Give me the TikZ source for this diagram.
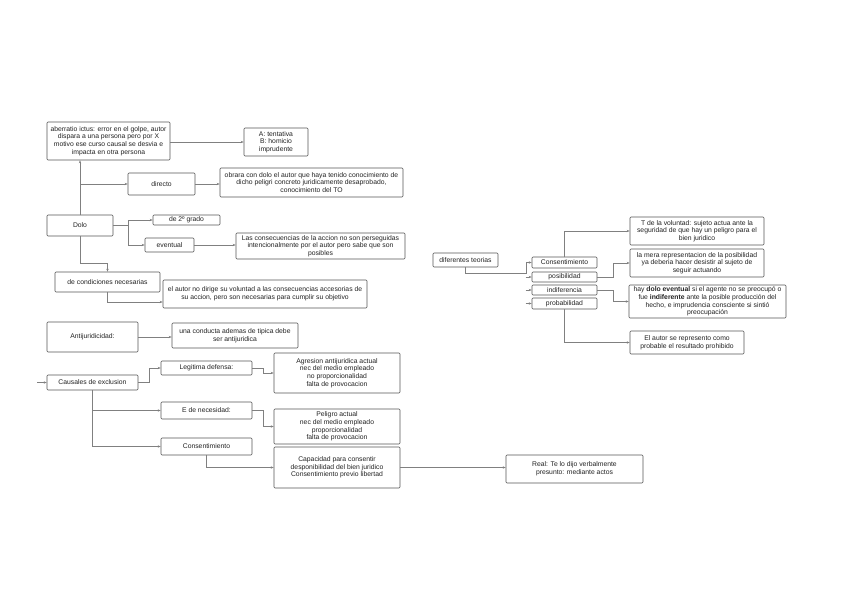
\documentclass[tikz,border=0pt]{standalone}
\usepackage{fontspec}
\setmainfont{Liberation Sans}
\usetikzlibrary{arrows.meta}
\definecolor{boxline}{HTML}{555555}
\definecolor{conline}{HTML}{808080}
\definecolor{txt}{HTML}{222222}
\tikzset{
  box/.style={draw=boxline, line width=0.6pt, rounded corners=1pt, fill=white,
    inner sep=0pt, align=center, text=txt,
    font=\fontsize{6.8}{7.6}\selectfont},
  con/.style={draw=conline, line width=0.5pt, -{Stealth[length=3pt,width=2.4pt]}},
  conplain/.style={draw=conline, line width=0.5pt},
}
\begin{document}
\begin{tikzpicture}[x=1pt,y=-1pt]
\useasboundingbox[fill=white] (0,0) rectangle (848,599);

% ---- left column: Dolo ----
\node[box, minimum width=123pt, minimum height=38pt] (aber) at (108.5,141) {aberratio ictus: error en el golpe, autor\\dispara a una persona pero por X\\motivo ese curso causal se desvia e\\impacta en otra persona};
\node[box, minimum width=64pt, minimum height=28pt] (tent) at (276,142) {A: tentativa\\B: homicio\\imprudente};
\node[box, minimum width=67pt, minimum height=22pt] (directo) at (161.5,184) {directo};
\node[box, minimum width=183pt, minimum height=29pt] (obrara) at (311.5,182.5) {obrara con dolo el autor que haya tenido conocimiento de\\dicho peligri concreto juridicamente desaprobado,\\conocimiento del TO};
\node[box, minimum width=66pt, minimum height=21pt] (dolo) at (80,225.5) {Dolo};
\node[box, minimum width=67pt, minimum height=10pt] (grado) at (186.5,220) {de 2º grado};
\node[box, minimum width=49pt, minimum height=14pt] (eventual) at (169.5,245) {eventual};
\node[box, minimum width=169pt, minimum height=26pt] (conse) at (320.5,246) {Las consecuencias de la accion no son perseguidas\\intencionalmente por el autor pero sabe que son\\posibles};
\node[box, minimum width=105pt, minimum height=20pt] (condic) at (107.5,282) {de condiciones necesarias};
\node[box, minimum width=204pt, minimum height=28pt] (elautor) at (265,294) {el autor no dirige su voluntad a las consecuencias accesorias de\\su accion, pero son necesarias para cumplir su objetivo};

% ---- Antijuridicidad ----
\node[box, minimum width=91pt, minimum height=30pt] (antij) at (92.5,337) {Antijuridicidad:};
\node[box, minimum width=126pt, minimum height=25pt] (conducta) at (235,335.5) {una conducta ademas de tipica debe\\ser antijuridica};
\node[box, minimum width=91pt, minimum height=15pt] (causales) at (92.5,382.5) {Causales de exclusion};
\node[box, minimum width=91pt, minimum height=14pt] (legit) at (206.5,368) {Legitima defensa:};
\node[box, minimum width=126pt, minimum height=40pt] (agres) at (337,373) {Agresion antijuridica actual\\nec del medio empleado\\no proporcionalidad\\falta de provocacion};
\node[box, minimum width=91pt, minimum height=17pt] (enec) at (206.5,410.5) {E de necesidad:};
\node[box, minimum width=126pt, minimum height=35pt] (peligro) at (337,426.5) {Peligro actual\\nec del medio empleado\\proporcionalidad\\falta de provocacion};
\node[box, minimum width=91pt, minimum height=17pt] (consent) at (206.5,446.5) {Consentimiento};
\node[box, minimum width=126pt, minimum height=41pt] (capac) at (337,467.5) {Capacidad para consentir\\desponibilidad del bien juridico\\Consentimiento previo libertad};
\node[box, minimum width=137pt, minimum height=28pt] (real) at (574.5,469) {Real: Te lo dijo verbalmente\\presunto: mediante actos};

% ---- right: teorias ----
\node[box, minimum width=65pt, minimum height=14pt] (teorias) at (465.5,260) {diferentes teorias};
\node[box, minimum width=65pt, minimum height=11pt] (consR) at (564.5,262.5) {Consentimiento};
\node[box, minimum width=65pt, minimum height=10pt] (posib) at (564.5,277) {posibilidad};
\node[box, minimum width=65pt, minimum height=10pt] (indif) at (564.5,290) {indiferencia};
\node[box, minimum width=65pt, minimum height=11pt] (probab) at (564.5,303.5) {probabilidad};
\node[box, minimum width=134pt, minimum height=28pt] (tvol) at (697,231) {T de la voluntad: sujeto actua ante la\\seguridad de que hay un peligro para el\\bien juridico};
\node[box, minimum width=134pt, minimum height=28pt] (mera) at (697,263) {la mera representacion de la posibilidad\\ya deberia hacer desistir al sujeto de\\seguir actuando};
\node[box, minimum width=157pt, minimum height=33pt] (haydolo) at (707.5,301.5) {hay \textbf{dolo eventual} si el agente no se preocupó o\\fue \textbf{indiferente} ante la posible producción del\\hecho, e imprudencia consciente si sintió\\preocupación};
\node[box, minimum width=114pt, minimum height=23pt] (elautorR) at (687,342.5) {El autor se represento como\\probable el resultado prohibido};

% ---- connectors: Dolo ----
\draw[con] (dolo.north) -- (dolo.north |- aber.south);
\draw[con] (dolo.north |- directo.west) -- (directo.west);
\draw[con] (aber.east |- tent.west) -- (tent.west);
\draw[con] (directo.east) -- (directo.east -| obrara.west);
\coordinate (dj) at (128,225.5);
\draw[conplain] (dolo.east) -- (dj);
\draw[con] (dj) |- (grado.west);
\draw[con] (dj) |- (eventual.west);
\draw[con] (eventual.east) -- (eventual.east -| conse.west);
\draw[con] (dolo.south) -- ++(0,27) -| (condic.north);
\draw[con] (condic.south) |- ([yshift=-8pt]elautor.west);

% ---- connectors: Antijuridicidad ----
\draw[con] (antij.east) -- (antij.east -| conducta.west);
\coordinate (cstub) at (37,382.5);
\draw[con] (cstub) -- (causales.west);
\draw[con] (causales.east) -- ++(11,0) |- (legit.west);
\draw[con] (causales.south) |- (enec.west);
\draw[con] (causales.south) |- (consent.west);
\draw[con] (legit.east) -- ++(11,0) |- (agres.west);
\draw[con] (enec.east) -- ++(11,0) |- (peligro.west);
\draw[con] (consent.south) |- (capac.west);
\draw[con] (capac.east) -- (capac.east -| real.west);

% ---- connectors: teorias ----
\coordinate (tj) at (526,273);
\draw[con] (teorias.south) |- (tj) |- (consR.west);
\draw[con] ([xshift=-6pt]posib.west) -- (posib.west);
\draw[con] ([xshift=-6pt]indif.west) -- (indif.west);
\draw[con] ([xshift=-6pt]probab.west) -- (probab.west);
\draw[con] (consR.north) |- (tvol.west);
\draw[con] (probab.south) |- (elautorR.west);
\draw[con] (posib.east) -- ++(16,0) |- (mera.west);
\draw[con] (indif.east) -- ++(16,0) |- (haydolo.west);
\end{tikzpicture}
\end{document}
